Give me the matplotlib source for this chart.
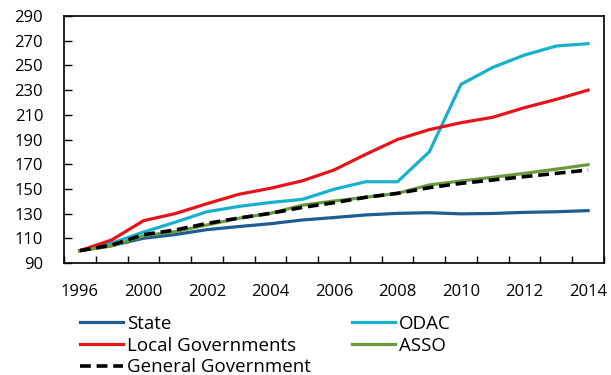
import numpy as np
import matplotlib
matplotlib.use("Agg")
import matplotlib.pyplot as plt

plt.rcParams['font.family'] = ['Open Sans', 'DejaVu Sans']

years = ["1996", "1998", "2000", "2001", "2002", "2003", "2004", "2005", "2006",
         "2007", "2008", "2009", "2010", "2011", "2012", "2013", "2014"]
shown_years = ["1996", "2000", "2002", "2004", "2006", "2008", "2010", "2012", "2014"]

state = [100, 104, 110, 113, 117, 119.5, 121.8, 124.8, 126.8, 128.9, 130.2,
         130.7, 129.8, 130.1, 131.0, 131.5, 132.4]
odac = [100, 106, 115, 123, 131.5, 135.8, 139, 141.5, 149.7, 155.8, 155.8,
        180, 234.7, 248.4, 258.4, 265.7, 267.6]
local_gov = [100, 108.6, 124.2, 130, 138, 145.6, 150.5, 156.5, 165.3, 178, 190,
             198, 203.6, 208, 215.8, 222.5, 230]
asso = [100, 103.8, 112, 115.4, 120.8, 126.2, 130.2, 136.8, 140.2, 143.2, 146.4,
        153.2, 156.4, 159.4, 162.6, 166, 169.6]
general_gov = [100, 104.5, 112.9, 116.7, 122, 126.4, 130.2, 135, 138.8, 143.2,
               146.4, 151, 154.5, 157.2, 159.9, 162.6, 165.3]

x = np.arange(len(years))

fig = plt.figure(figsize=(6.11, 3.75), dpi=100)
ax = fig.add_axes([0.1047, 0.2987, 0.8838, 0.6586])

h_state, = ax.plot(x, state, color="#1c5e91", lw=2.3, label="State", zorder=2)
h_odac, = ax.plot(x, odac, color="#17b1cc", lw=2.3, label="ODAC", zorder=3)
h_local, = ax.plot(x, local_gov, color="#e5141b", lw=2.3, label="Local Governments", zorder=3)
h_asso, = ax.plot(x, asso, color="#6c9a3a", lw=2.3, label="ASSO", zorder=4)
h_gg, = ax.plot(x, general_gov, color="black", lw=2.6, ls=(0, (3, 1.6)),
                label="General Government", zorder=5)

ax.set_xlim(-0.5, len(years) - 0.5)
ax.set_ylim(90, 290)
ax.set_yticks(np.arange(90, 291, 20))

# Tick marks sit on category boundaries; year labels sit on category centres
ax.set_xticks(np.arange(-0.5, len(years), 1.0))
ax.set_xticklabels([])
label_pos = [years.index(y) for y in shown_years]
ax.set_xticks(label_pos, minor=True)
ax.set_xticklabels(shown_years, minor=True)
ax.tick_params(axis="x", which="major", direction="in", length=5, width=1, color="black")
ax.tick_params(axis="x", which="minor", length=0, pad=15, labelsize=12)
ax.tick_params(axis="y", direction="in", length=6, width=1, pad=15, labelsize=12)

for s in ax.spines.values():
    s.set_linewidth(1.2)
    s.set_color("black")

leg = fig.legend(handles=[h_state, h_local, h_gg, h_odac, h_asso], ncol=2,
                 loc="upper left", bbox_to_anchor=(0.131, 0.160),
                 frameon=False, fontsize=13.5, handlelength=2.3, handletextpad=0.2,
                 columnspacing=2.2, labelspacing=0.2, borderpad=0, borderaxespad=0)

fig.savefig("out.png", dpi=100)
